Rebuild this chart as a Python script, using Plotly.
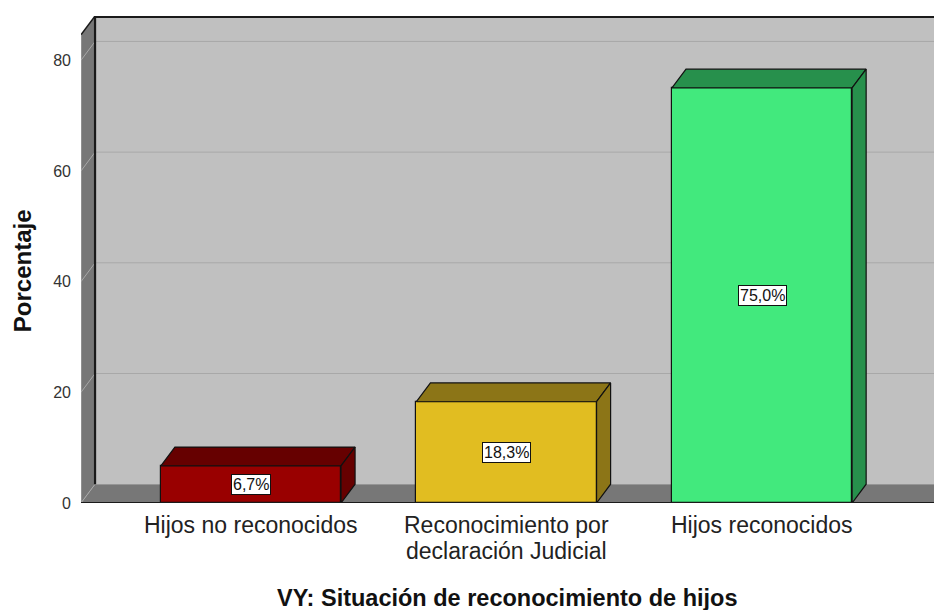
import plotly.graph_objects as go

categories = ["Hijos no reconocidos", "Reconocimiento por<br>declaración Judicial", "Hijos reconocidos"]
values = [6.7, 18.3, 75.0]
value_labels = ["6,7%", "18,3%", "75,0%"]
y_ticks = [0, 20, 40, 60, 80]

front_colors = ["#990000", "#e1bd21", "#42e97d"]
dark_colors = ["#660000", "#8c7517", "#27904c"]

FONT = "Liberation Sans, Arial, sans-serif"
DX = 0.055
DY = 3.4
W = 0.705
X0, X1 = -0.665, 2.673
YTOP = 88.0

xs = list(range(len(categories)))

fig = go.Figure()

# front faces
fig.add_trace(go.Bar(
    x=xs, y=values, width=W,
    marker=dict(color=front_colors, line=dict(color="#111111", width=1.2)),
    hoverinfo="skip", showlegend=False,
))

# top and side faces
for xc, v, dc in zip(xs, values, dark_colors):
    l, r = xc - W / 2, xc + W / 2
    fig.add_trace(go.Scatter(
        x=[l, r, r + DX, l + DX, l], y=[v, v, v + DY, v + DY, v],
        mode="lines", fill="toself", fillcolor=dc,
        line=dict(color="#111111", width=1.2), hoverinfo="skip", showlegend=False,
    ))
    fig.add_trace(go.Scatter(
        x=[r, r + DX, r + DX, r, r], y=[0, DY, v + DY, v, 0],
        mode="lines", fill="toself", fillcolor=dc,
        line=dict(color="#111111", width=1.2), hoverinfo="skip", showlegend=False,
    ))

shapes = []
# back wall
shapes.append(dict(type="rect", xref="x", yref="y", x0=X0 + DX, x1=X1 + 0.1, y0=DY, y1=YTOP,
                   fillcolor="#c0c0c0", line=dict(width=0), layer="below"))
# left wall
shapes.append(dict(type="path", xref="x", yref="y",
                   path=f"M {X0} 0 L {X0+DX} {DY} L {X0+DX} {YTOP} L {X0} {YTOP-DY} Z",
                   fillcolor="#777777", line=dict(width=0), layer="below"))
# floor
shapes.append(dict(type="path", xref="x", yref="y",
                   path=f"M {X0} 0 L {X1+0.1} 0 L {X1+0.1} {DY} L {X0+DX} {DY} Z",
                   fillcolor="#777777", line=dict(width=0), layer="below"))
# gridlines
for t in y_ticks[1:]:
    shapes.append(dict(type="line", xref="x", yref="y", x0=X0 + DX, x1=X1 + 0.1, y0=t + DY, y1=t + DY,
                       line=dict(color="#a8a8a8", width=1), layer="below"))
    shapes.append(dict(type="line", xref="x", yref="y", x0=X0, x1=X0 + DX, y0=t, y1=t + DY,
                       line=dict(color="#a8a8a8", width=1), layer="below"))
# floor-left wall diagonal
shapes.append(dict(type="line", xref="x", yref="y", x0=X0, x1=X0 + DX, y0=0, y1=DY,
                   line=dict(color="#a8a8a8", width=1), layer="below"))
# outlines
shapes.append(dict(type="line", xref="x", yref="y", x0=X0 + DX, x1=X0 + DX, y0=DY, y1=YTOP,
                   line=dict(color="#1a1a1a", width=2.2), layer="below"))
shapes.append(dict(type="line", xref="x", yref="y", x0=X0 + DX, x1=X1 + 0.1, y0=YTOP - 0.2, y1=YTOP - 0.2,
                   line=dict(color="#1a1a1a", width=2), layer="below"))
shapes.append(dict(type="line", xref="x", yref="y", x0=X0, x1=X0 + DX, y0=YTOP - DY, y1=YTOP,
                   line=dict(color="#1a1a1a", width=1.5), layer="below"))
shapes.append(dict(type="line", xref="x", yref="y", x0=X0, x1=X0, y0=0, y1=YTOP - DY,
                   line=dict(color="#aaaaaa", width=1), layer="below"))
shapes.append(dict(type="line", xref="x", yref="y", x0=X0, x1=X1 + 0.1, y0=0, y1=0,
                   line=dict(color="#1a1a1a", width=2), layer="above"))

annotations = []
for xc, v, lab in zip(xs, values, value_labels):
    annotations.append(dict(x=xc, y=v / 2, xref="x", yref="y", text=lab, showarrow=False,
                            font=dict(family=FONT, size=16, color="#111111"),
                            bgcolor="white", bordercolor="#111111", borderwidth=1, borderpad=1))
# category labels (each line placed separately for tight line spacing)
for xc, cat in zip(xs, categories):
    for i, line in enumerate(cat.split("<br>")):
        annotations.append(dict(x=xc, y=0, xref="x", yref="paper", text=line, showarrow=False,
                                font=dict(family=FONT, size=23, color="#222222"),
                                xanchor="center", yanchor="middle", yshift=-22 - 26 * i))
annotations.append(dict(x=0.5, y=0, xref="paper", yref="paper", text="<b>VY: Situación de reconocimiento de hijos</b>",
                        showarrow=False, font=dict(family=FONT, size=23.5, color="#111111"),
                        xanchor="center", yanchor="middle", yshift=-95))
annotations.append(dict(x=0, y=0.476, xref="paper", yref="paper", text="<b>Porcentaje</b>",
                        showarrow=False, textangle=-90, font=dict(family=FONT, size=24, color="#111111"),
                        xanchor="center", yanchor="middle", xshift=-59))

fig.update_layout(
    width=934, height=610,
    margin=dict(l=81, r=0, t=16, b=107),
    paper_bgcolor="white", plot_bgcolor="white",
    shapes=shapes, annotations=annotations,
    bargap=0,
    xaxis=dict(range=[X0, X1], tickvals=xs, showticklabels=False, showgrid=False, zeroline=False,
               showline=False, ticks=""),
    yaxis=dict(range=[0, YTOP], tickvals=y_ticks, showgrid=False, zeroline=False, showline=False,
               ticks="", ticklabelstandoff=9,
               tickfont=dict(family=FONT, size=16, color="#333333")),
)

fig.write_html("out.html", config={"displayModeBar": False},
               post_script="document.body.style.margin='0px';")
